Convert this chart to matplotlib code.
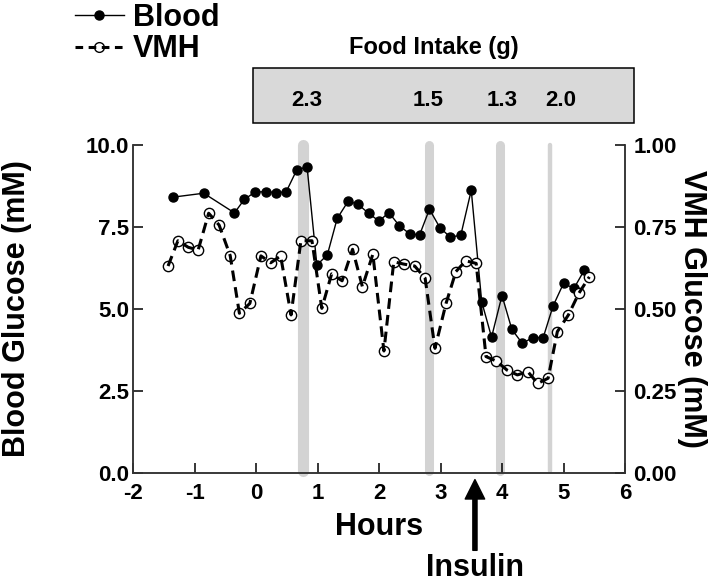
import matplotlib
matplotlib.use("Agg")
import matplotlib.pyplot as plt
from matplotlib.patches import Rectangle
from matplotlib.lines import Line2D
from matplotlib.legend_handler import HandlerTuple

plt.rcParams['font.family'] = ['Liberation Sans', 'DejaVu Sans']
plt.rcParams['font.weight'] = 'bold'
plt.rcParams['axes.unicode_minus'] = False

# Blutglukose (mM) ueber Stunden
blood_h = [-1.35, -0.85, -0.35, -0.19, -0.02, 0.16, 0.32, 0.49, 0.66, 0.83, 0.99, 1.16,
           1.32, 1.50, 1.66, 1.83, 2.00, 2.16, 2.33, 2.50, 2.66, 2.82, 2.99, 3.16, 3.33,
           3.50, 3.67, 3.83, 4.00, 4.16, 4.33, 4.50, 4.67, 4.83, 5.00, 5.17, 5.34]
blood_v = [8.41, 8.53, 7.93, 8.34, 8.56, 8.58, 8.55, 8.57, 9.23, 9.34, 6.34, 6.65,
           7.76, 8.29, 8.19, 7.92, 7.68, 7.94, 7.54, 7.29, 7.26, 8.04, 7.48, 7.19, 7.25,
           8.62, 5.22, 4.14, 5.41, 4.38, 3.95, 4.13, 4.13, 5.09, 5.78, 5.63, 6.19]

# VMH Glukose (mM), rechte Achse
vmh_h = [-1.43, -1.27, -1.10, -0.94, -0.77, -0.60, -0.42, -0.27, -0.10, 0.08, 0.24, 0.40,
         0.57, 0.73, 0.91, 1.07, 1.23, 1.40, 1.57, 1.73, 1.90, 2.08, 2.24, 2.40, 2.58,
         2.75, 2.91, 3.09, 3.25, 3.41, 3.58, 3.74, 3.91, 4.08, 4.25, 4.42, 4.58, 4.75,
         4.90, 5.08, 5.25, 5.42]
vmh_v = [0.631, 0.708, 0.688, 0.680, 0.792, 0.756, 0.663, 0.487, 0.517, 0.662, 0.641, 0.662,
         0.482, 0.708, 0.708, 0.502, 0.607, 0.586, 0.682, 0.568, 0.667, 0.372, 0.644, 0.637,
         0.631, 0.594, 0.380, 0.517, 0.614, 0.647, 0.639, 0.355, 0.341, 0.314, 0.299, 0.309,
         0.273, 0.289, 0.431, 0.482, 0.548, 0.598]

# Mahlzeiten (graue Balken) und Futteraufnahme
meal_h = [0.76, 2.81, 3.97, 4.78]
meal_w = [8, 6.5, 6.5, 3.2]
food_h = [0.83, 2.80, 4.00, 4.95]
food_g = ['2.3', '1.5', '1.3', '2.0']
insulin_h = 3.56

fig = plt.figure(figsize=(7.2, 5.82), dpi=100)
ax = fig.add_axes([133/720, 109/582, 492/720, 328/582])
ax2 = ax.twinx()

for h, w in zip(meal_h, meal_w):
    ax.plot([h, h], [0.05, 10.0], color='#d3d3d3', lw=w, solid_capstyle='round',
            zorder=1, clip_on=False)

ax.plot(blood_h, blood_v, color='black', lw=1.0, marker='o', ms=6.5, zorder=3)
ax2.scatter(vmh_h, vmh_v, s=55, facecolor='white', edgecolor='black', lw=1.0, zorder=2)
ax2.plot(vmh_h, vmh_v, color='black', lw=2.2, ls=(0, (3.5, 2)), zorder=3)

ax.set_xlim(-2, 6)
ax.set_ylim(0, 10)
ax2.set_ylim(0, 1.0)
ax.set_xticks(range(-2, 7))
ax.set_yticks([0, 2.5, 5, 7.5, 10])
ax.set_yticklabels(['0.0', '2.5', '5.0', '7.5', '10.0'])
ax2.set_yticks([0, 0.25, 0.5, 0.75, 1.0])
ax2.set_yticklabels(['0.00', '0.25', '0.50', '0.75', '1.00'])

for a in (ax, ax2):
    a.spines['top'].set_visible(False)
    for s in ('left', 'right', 'bottom'):
        a.spines[s].set_linewidth(1.1)
        a.spines[s].set_color('#333333')

ax.tick_params(axis='x', direction='in', length=7, width=1.1, labelsize=16, pad=7)
ax.tick_params(axis='y', direction='in', length=7, width=1.1, labelsize=16, pad=3)
ax2.tick_params(axis='y', direction='in', length=7, width=1.1, labelsize=16, pad=6)

ax.set_xlabel('Hours', fontsize=22, fontweight='bold', labelpad=6)
ax.set_ylabel('Blood Glucose (mM)', fontsize=22, fontweight='bold')
ax.yaxis.set_label_coords(-0.205, 0.5)
ax2.set_ylabel('VMH Glucose (mM)', fontsize=22, fontweight='bold', rotation=270, va='bottom')
ax2.yaxis.set_label_coords(1.105, 0.5)

# Kasten mit Futteraufnahme
box = Rectangle((-0.05, 10.67), 6.2, 1.68, facecolor='#d9d9d9', edgecolor='black',
                lw=1.1, clip_on=False, transform=ax.transData)
ax.add_patch(box)
for h, g in zip(food_h, food_g):
    ax.text(h, 11.37, g, ha='center', va='center', fontsize=16, fontweight='bold', clip_on=False)
ax.text(2.89, 12.98, 'Food Intake (g)', ha='center', va='center', fontsize=17, fontweight='bold')

# Insulin-Pfeil
ax.annotate('Insulin', xy=(insulin_h, -0.2), xytext=(insulin_h, -2.9),
            ha='center', va='center', fontsize=22, fontweight='bold',
            annotation_clip=False,
            arrowprops=dict(facecolor='black', edgecolor='black', width=3, headwidth=14,
                            headlength=14, shrink=0.0))

h_blood = Line2D([], [], color='black', lw=1.0, marker='o', ms=6.5)
h_vmh_m = Line2D([], [], ls='none', marker='o', ms=7, mfc='white', mec='black', mew=1.0)
h_vmh_l = Line2D([], [], color='black', lw=2.2, ls=(0, (2.5, 1.8)))
fig.legend([h_blood, (h_vmh_m, h_vmh_l)], ['Blood', 'VMH'],
           handler_map={tuple: HandlerTuple(ndivide=1)},
           loc='upper left', bbox_to_anchor=(75/720, 0.995), frameon=False,
           prop={'size': 22, 'weight': 'bold'}, handlelength=1.6, handletextpad=0.3,
           labelspacing=0.05, borderpad=0, borderaxespad=0)

fig.savefig('out.png', dpi=100)
